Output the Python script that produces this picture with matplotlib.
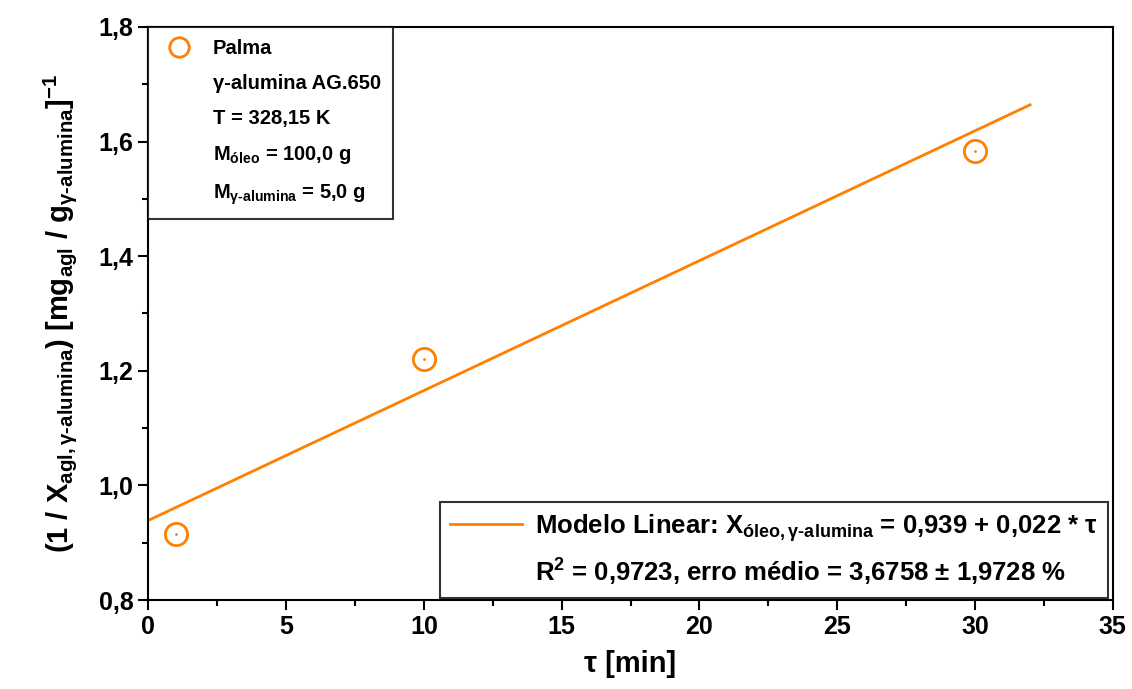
import matplotlib.pyplot as plt
from matplotlib.lines import Line2D
from matplotlib.ticker import MultipleLocator, FuncFormatter

# data
tau = [1, 10, 30]
inv_x = [0.915, 1.221, 1.584]
fit_tau = [0, 32]
fit_y = [0.939, 1.664]

orange = '#FF8000'

plt.rcParams['font.family'] = ['Liberation Sans', 'DejaVu Sans']
plt.rcParams['font.weight'] = 'bold'
plt.rcParams['axes.labelweight'] = 'bold'
plt.rcParams['mathtext.fontset'] = 'custom'
plt.rcParams['mathtext.rm'] = 'Liberation Sans:bold'
plt.rcParams['mathtext.it'] = 'Liberation Sans:bold'
plt.rcParams['mathtext.bf'] = 'Liberation Sans:bold'
plt.rcParams['mathtext.default'] = 'bf'

fig = plt.figure(figsize=(11.32, 6.89), dpi=100)
ax = fig.add_axes([0.131, 0.129, 0.852, 0.832])

ax.plot(tau, inv_x, 'o', mfc='none', mec=orange, ms=16, mew=2, zorder=3)
ax.plot(tau, inv_x, '.', color=orange, ms=2, zorder=3)
ax.plot(fit_tau, fit_y, '-', color=orange, lw=2)

ax.set_xlim(0, 35)
ax.set_ylim(0.8, 1.8)
ax.xaxis.set_major_locator(MultipleLocator(5))
ax.xaxis.set_minor_locator(MultipleLocator(2.5))
ax.yaxis.set_major_locator(MultipleLocator(0.2))
ax.yaxis.set_minor_locator(MultipleLocator(0.1))
comma = FuncFormatter(lambda v, p: ('%.1f' % v).replace('.', ','))
ax.yaxis.set_major_formatter(comma)
ax.tick_params(which='both', direction='out', width=1.5, labelsize=18)
ax.tick_params(which='major', length=7)
ax.tick_params(which='minor', length=4)
for s in ax.spines.values():
    s.set_linewidth(1.5)

ax.set_xlabel(r'τ [min]', fontsize=21, labelpad=8)
ax.set_ylabel(r'(1 / X$_{agl,γ\text{-}alumina}$) [mg$_{agl}$ / g$_{γ\text{-}alumina}$]$^{-1}$',
              fontsize=21, labelpad=14)

# top-left legend
blank = Line2D([], [], linestyle='none')
h1 = [Line2D([], [], marker='o', linestyle='none', mfc='none', mec=orange, ms=14, mew=2),
      blank, blank, blank, blank]
l1 = ['Palma', 'γ-alumina AG.650', 'T = 328,15 K',
      r'M$_{óleo}$ = 100,0 g', r'M$_{γ\text{-}alumina}$ = 5,0 g']
leg1 = ax.legend(h1, l1, loc='upper left', bbox_to_anchor=(0, 1), borderaxespad=0,
                 fontsize=14.5, frameon=True, fancybox=False, edgecolor='black',
                 labelspacing=0.8, handletextpad=0.8, handlelength=1.8, borderpad=0.6)
leg1.get_frame().set_linewidth(1.5)
ax.add_artist(leg1)

# bottom-right legend
h2 = [Line2D([], [], color=orange, lw=2), blank]
l2 = [r'Modelo Linear: X$_{óleo,γ\text{-}alumina}$ = 0,939 + 0,022 * τ',
      r'R$^2$ = 0,9723, erro médio = 3,6758 ± 1,9728 %']
leg2 = ax.legend(h2, l2, loc='lower right', bbox_to_anchor=(0.995, 0.004), borderaxespad=0,
                 fontsize=18.5, frameon=True, fancybox=False, edgecolor='black',
                 labelspacing=0.5, handlelength=2.8, handletextpad=0.5, borderpad=0.4)
leg2.get_frame().set_linewidth(1.5)

fig.savefig('out.png', dpi=100)
